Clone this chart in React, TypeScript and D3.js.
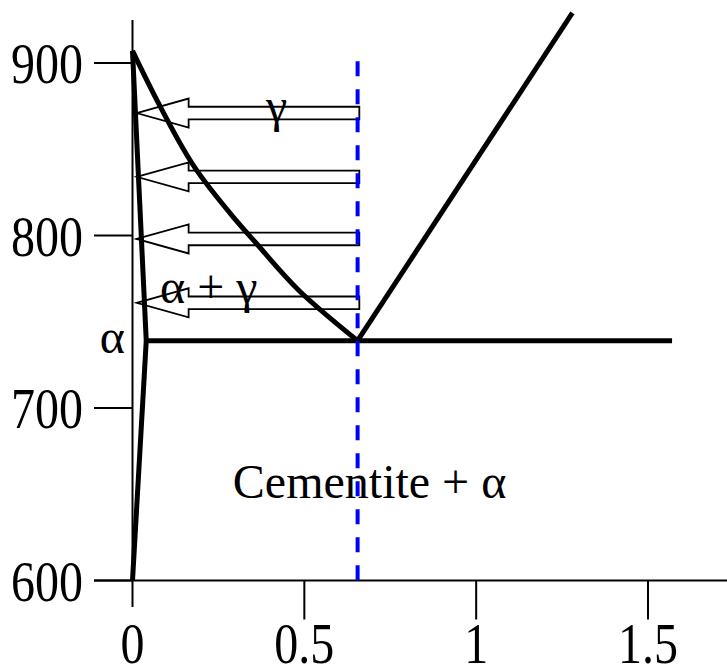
import React from "react";
import * as d3 from "d3";

const W = 727;
const H = 668;

// Axis ticks
const xTicks = [0, 0.5, 1, 1.5];
const xTickLabels = ["0", "0.5", "1", "1.5"];
const yTicks = [600, 700, 800, 900];
const yTickLabels = ["600", "700", "800", "900"];

// Phase boundaries: [wt% C, temperature °C]
const alphaBoundary: [number, number][] = [
  [0, 600],
  [0.04, 739],
  [0, 907],
];
const gammaBoundary: [number, number][] = [
  [0, 907],
  [0.08, 875],
  [0.186, 838],
  [0.292, 811],
  [0.36, 795.5],
  [0.485, 768],
  [0.655, 739],
];
const cementiteBoundary: [number, number][] = [
  [0.655, 739],
  [1.28, 929],
];
const eutectoidLine: [number, number][] = [
  [0.04, 739],
  [1.57, 739],
];

// Cooling path of the eutectoid composition
const eutectoidComposition = 0.655;
const coolingStart = 901;

// Arrows showing the composition of the γ phase
const arrowTemps = [871, 834, 798, 761];
const arrowTipC = 0.012;
const arrowTailC = 0.66;

// Region labels
const regionLabels = [
  { text: "γ", c: 0.419, t: 866, anchor: "middle" },
  { text: "α + γ", c: 0.08, t: 761, anchor: "start" },
  { text: "α", c: -0.022, t: 732, anchor: "end" },
  { text: "Cementite + α", c: 0.292, t: 648, anchor: "start" },
];

const FONT = "'Liberation Serif', 'Times New Roman', serif";
const TICK_STRETCH = 1.2;

export default function App() {
  const x = d3.scaleLinear().domain([0, 1.5]).range([132.5, 648]);
  const y = d3.scaleLinear().domain([600, 900]).range([580.5, 63]);

  const straight = d3
    .line<[number, number]>()
    .x((d) => x(d[0]))
    .y((d) => y(d[1]));
  const smooth = d3
    .line<[number, number]>()
    .x((d) => x(d[0]))
    .y((d) => y(d[1]))
    .curve(d3.curveMonotoneY);

  const x0 = x(0);
  const yBase = y(600);

  const headLen = 52;
  const headHalf = 14.5;
  const shaftHalf = 6.3;
  const arrowPath = (t: number) => {
    const yc = y(t);
    const xt = x(arrowTipC);
    const xh = xt + headLen;
    const xe = x(arrowTailC);
    return [
      `M${xt},${yc}`,
      `L${xh},${yc - headHalf}`,
      `L${xh},${yc - shaftHalf}`,
      `L${xe},${yc - shaftHalf}`,
      `L${xe},${yc + shaftHalf}`,
      `L${xh},${yc + shaftHalf}`,
      `L${xh},${yc + headHalf}`,
      "Z",
    ].join(" ");
  };

  return (
    <svg
      width={W}
      height={H}
      style={{ position: "absolute", left: 0, top: 0, background: "#fff" }}
      fontFamily={FONT}
      fontSize={48}
    >
      {/* axes */}
      <g stroke="#000" strokeWidth={2} fill="none">
        <line x1={x0} x2={x0} y1={20} y2={607} />
        <line x1={94} x2={W} y1={yBase} y2={yBase} />
        {yTicks.map((t) => (
          <line key={t} x1={94} x2={x0} y1={y(t)} y2={y(t)} />
        ))}
        {xTicks
          .filter((c) => c !== 0)
          .map((c) => (
            <line key={c} x1={x(c)} x2={x(c)} y1={yBase} y2={yBase + 39} />
          ))}
      </g>
      {yTicks.map((t, i) => (
        <text
          key={t}
          transform={`translate(83,${y(t) + 0.5}) scale(1,${TICK_STRETCH})`}
          y={16.3}
          textAnchor="end"
          fill="#000"
        >
          {yTickLabels[i]}
        </text>
      ))}
      {xTicks.map((c, i) => (
        <text
          key={c}
          transform={`translate(${x(c)},643.5) scale(1,${TICK_STRETCH})`}
          y={16.3}
          textAnchor="middle"
          fill="#000"
        >
          {xTickLabels[i]}
        </text>
      ))}

      {/* composition arrows */}
      <g stroke="#000" strokeWidth={1.8} fill="none" strokeLinejoin="miter">
        {arrowTemps.map((t) => (
          <path key={t} d={arrowPath(t)} />
        ))}
      </g>

      {/* phase boundaries */}
      <g stroke="#000" strokeWidth={5} fill="none" strokeLinejoin="miter">
        <path d={straight(alphaBoundary) ?? ""} />
        <path d={smooth(gammaBoundary) ?? ""} />
        <path d={straight(cementiteBoundary) ?? ""} />
        <path d={straight(eutectoidLine) ?? ""} />
      </g>

      {regionLabels.map((l) => (
        <text
          key={l.text}
          x={x(l.c)}
          y={y(l.t)}
          textAnchor={l.anchor as any}
          fill="#000"
        >
          {l.text}
        </text>
      ))}

      {/* eutectoid composition */}
      <line
        x1={x(eutectoidComposition)}
        x2={x(eutectoidComposition)}
        y1={y(coolingStart)}
        y2={yBase}
        stroke="#0000ff"
        strokeWidth={4}
        strokeDasharray="15 13"
      />
    </svg>
  );
}
